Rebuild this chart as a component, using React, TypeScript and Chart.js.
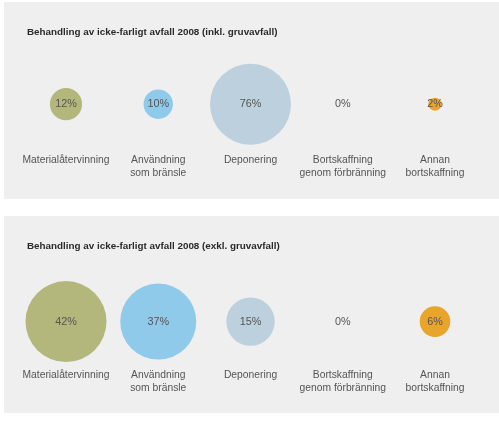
import React, { useEffect, useRef } from "react";
import { Chart, registerables } from "chart.js";

Chart.register(...registerables);

const categories: string[][] = [
  ["Materialåtervinning"],
  ["Användning", "som bränsle"],
  ["Deponering"],
  ["Bortskaffning", "genom förbränning"],
  ["Annan", "bortskaffning"],
];
const inklValues = [12, 10, 76, 0, 2];
const exklValues = [42, 37, 15, 0, 6];
const colors = ["#b4b77b", "#8fcaeb", "#bdd0dd", "#c8c8c8", "#e9a42b"];
const titleInkl = "Behandling av icke-farligt avfall 2008 (inkl. gruvavfall)";
const titleExkl = "Behandling av icke-farligt avfall 2008 (exkl. gruvavfall)";

const MAX_RADIUS = 40.5;
const FONT = '"Liberation Sans", Arial, sans-serif';

const pctPlugin = {
  id: "pctLabels",
  afterDatasetsDraw(chart: any) {
    const ctx = chart.ctx;
    const meta = chart.getDatasetMeta(0);
    const data = chart.data.datasets[0].data as any[];
    ctx.save();
    ctx.font = `10.8px ${FONT}`;
    ctx.fillStyle = "#555555";
    ctx.textAlign = "center";
    ctx.textBaseline = "middle";
    meta.data.forEach((el: any, i: number) => {
      ctx.fillText(`${data[i].v}%`, el.x, el.y);
    });
    ctx.restore();
  },
};

type PanelProps = {
  title: string;
  values: number[];
  top: number;
  titleBottom: number;
  tickPad: number;
  padBottom: number;
};

function Panel({ title, values, top, titleBottom, tickPad, padBottom }: PanelProps) {
  const ref = useRef<HTMLCanvasElement>(null);
  useEffect(() => {
    if (!ref.current) return;
    const maxV = Math.max(...values);
    const k = MAX_RADIUS / Math.sqrt(maxV);
    const chart = new Chart(ref.current, {
      type: "bubble",
      data: {
        datasets: [
          {
            data: values.map((v, i) => ({ x: i, y: 0, r: k * Math.sqrt(v), v })) as any,
            backgroundColor: colors,
            borderWidth: 0,
            hoverBorderWidth: 0,
            clip: false as any,
          },
        ],
      },
      options: {
        animation: false,
        responsive: true,
        maintainAspectRatio: false,
        events: [],
        layout: { autoPadding: false, padding: { left: 23, right: 23, top: 0, bottom: padBottom } },
        plugins: {
          legend: { display: false },
          tooltip: { enabled: false },
          title: {
            display: true,
            text: title,
            align: "start",
            color: "#2a2a2a",
            font: { family: FONT, size: 9.85, weight: "bold", lineHeight: 1.2 },
            padding: { top: 24, bottom: titleBottom },
          },
        },
        scales: {
          x: {
            type: "linear",
            min: -0.4228,
            max: 4.4444,
            afterBuildTicks: (axis: any) => {
              axis.ticks = categories.map((_, i) => ({ value: i }));
            },
            afterFit: (axis: any) => {
              axis.paddingLeft = 0;
              axis.paddingRight = 0;
            },
            grid: { display: false, drawTicks: false, tickLength: 0 },
            border: { display: false },
            ticks: {
              autoSkip: false,
              maxRotation: 0,
              minRotation: 0,
              padding: tickPad,
              color: "#555555",
              font: { family: FONT, size: 10.3, lineHeight: "13px" as any },
              callback: (value: any) => categories[Math.round(Number(value))] ?? "",
            },
          },
          y: { display: false, min: -1, max: 1 },
        },
      },
      plugins: [pctPlugin],
    });
    return () => chart.destroy();
  }, [title, values, titleBottom, tickPad, padBottom]);

  return (
    <div
      style={{
        position: "absolute",
        left: 4,
        top,
        width: 495,
        height: 197,
        background: "#efefef",
      }}
    >
      <canvas ref={ref} />
    </div>
  );
}

export default function App() {
  return (
    <div
      style={{
        position: "absolute",
        left: 0,
        top: 0,
        width: 499,
        height: 428,
        background: "#ffffff",
        overflow: "hidden",
      }}
    >
      <Panel title={titleInkl} values={inklValues} top={2} titleBottom={26} tickPad={9.4} padBottom={9.6} />
      <Panel title={titleExkl} values={exklValues} top={216} titleBottom={30} tickPad={7.1} padBottom={11.4} />
    </div>
  );
}
